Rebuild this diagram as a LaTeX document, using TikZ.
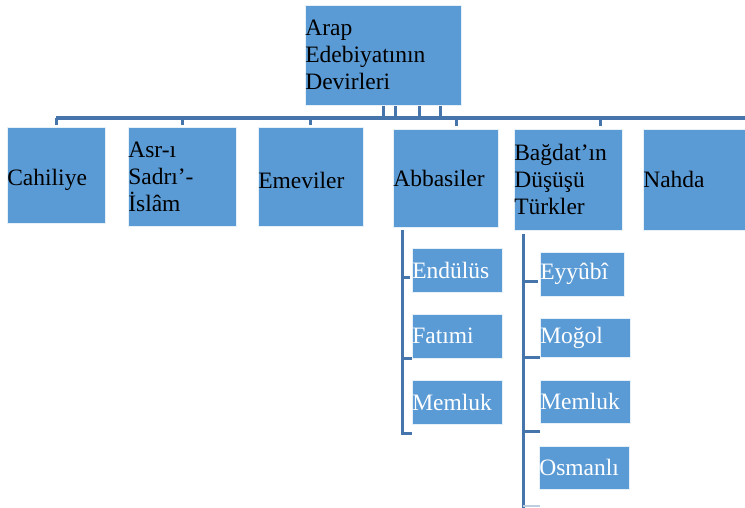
\documentclass[tikz,border=0pt]{standalone}
\usepackage{fontspec}
\setmainfont{Liberation Serif}
\definecolor{boxblue}{HTML}{5B9BD5}
\definecolor{linkblue}{HTML}{4575AA}
\begin{document}
\begin{tikzpicture}[x=1pt,y=1pt,
  mbox/.style={anchor=north west, fill=boxblue, draw=white!85!boxblue, line width=0.6pt,
     inner sep=0pt, align=left, text=black,
     font=\fontsize{23.5}{27}\selectfont},
  sbox/.style={mbox, text=white},
  link/.style={draw=linkblue, line width=3.6pt},
  thinlink/.style={draw=linkblue, line width=3pt}]
\useasboundingbox (0,0) rectangle (745,-508);
% top
\node[mbox, minimum width=156, minimum height=100, text width=156] (top) at (305,-5) {Arap\\Edebiyatının\\Devirleri};
% level 1
\node[mbox, minimum width=98, minimum height=96, text width=98] (cah) at (7,-127) {\raisebox{-5pt}[\height][\depth]{Cahiliye}};
\node[mbox, minimum width=108, minimum height=99, text width=108] (asr) at (128,-127) {Asr-ı\\Sadrı’-\\İslâm};
\node[mbox, minimum width=105, minimum height=99, text width=105] (eme) at (258,-127) {\raisebox{-4pt}[\height][\depth]{Emeviler}};
\node[mbox, minimum width=105, minimum height=98, text width=105] (abb) at (393,-129) {Abbasiler};
\node[mbox, minimum width=108, minimum height=101, text width=108] (bag) at (514,-129) {Bağdat’ın\\Düşüşü\\Türkler};
\node[mbox, minimum width=102, minimum height=101, text width=102] (nah) at (643,-129) {Nahda};
% Abbasiler children
\node[sbox, minimum width=90, minimum height=44, text width=90] (end) at (412,-248) {Endülüs};
\node[sbox, minimum width=90, minimum height=44, text width=90] (fat) at (412,-314) {Fatımi};
\node[sbox, minimum width=90, minimum height=44, text width=90] (mem1) at (412,-380) {Memluk};
% Bagdat children
\node[sbox, minimum width=84, minimum height=44, text width=84] (eyy) at (540,-252) {Eyyûbî};
\node[sbox, minimum width=90, minimum height=39, text width=90] (mog) at (540,-318) {Moğol};
\node[sbox, minimum width=90, minimum height=43, text width=90] (mem2) at (540,-380) {Memluk};
\node[sbox, minimum width=90, minimum height=43, text width=90] (osm) at (539,-446) {Osmanlı};
% bus
\coordinate (busL) at (56,-118);
\coordinate (busR) at (745,-118);
\draw[link] (busL) -- (busR);
\foreach \dx in {78,90,114,135} {
  \draw[thinlink] ([xshift=\dx pt]top.south west) -- ([xshift=\dx pt]top.south west |- busL);
}
\draw[thinlink] (busL) -- ([yshift=2pt]busL |- cah.north);
\draw[thinlink] (busL -| asr.north) -- ([yshift=2pt]asr.north);
\draw[thinlink] (busL -| eme.north) -- ([yshift=2pt]eme.north);
\draw[thinlink] ([xshift=63pt]abb.north west |- busL) -- ([xshift=63pt,yshift=3pt]abb.north west);
\draw[thinlink] ([xshift=86pt]bag.north west |- busL) -- ([xshift=86pt,yshift=3pt]bag.north west);
% Abbasiler sub-tree
\coordinate (av) at ([xshift=9pt,yshift=-2pt]abb.south west);
\coordinate (avb) at (402,-433);
\draw[thinlink] (av) -- (avb) -- (end.west |- avb);
\draw[thinlink] (av |- 0,-277) -- ([xshift=-2pt]end.west |- 0,-277);
\draw[thinlink] (av |- fat.south) -- (fat.south west);
% Bagdat sub-tree
\coordinate (bv) at ([xshift=9pt,yshift=-3pt]bag.south west);
\coordinate (bvb) at (523,-508);
\draw[thinlink] (bv) -- (bvb);
\draw[thinlink] (bv |- 0,-281) -- (538,-281);
\draw[thinlink] (bv |- mog.south) -- (mog.south west);
\draw[thinlink] (bv |- 0,-431) -- (540,-431);
\draw[line width=2.5pt, draw=linkblue!35] (bv |- 0,-506) -- (540,-506);
\end{tikzpicture}
\end{document}
